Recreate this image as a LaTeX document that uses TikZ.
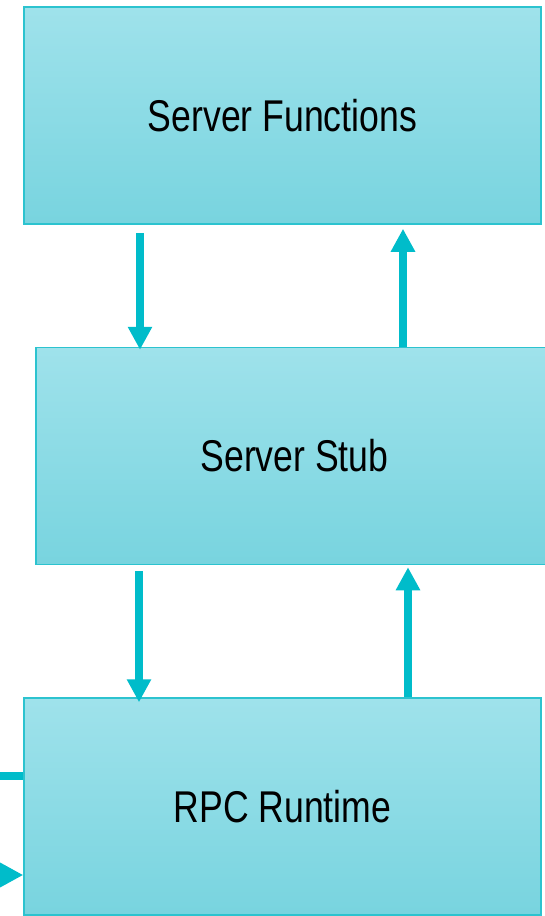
\documentclass[tikz,border=0pt]{standalone}
\usepackage{fontspec}
\setmainfont{Liberation Sans}[FakeStretch=0.8]
\usetikzlibrary{arrows.meta,calc}
\definecolor{flowcol}{HTML}{00BCCA}
\definecolor{edgecol}{HTML}{2CC3CF}
\definecolor{topcol}{HTML}{9FE2EB}
\definecolor{botcol}{HTML}{78D4DF}
\begin{document}
\begin{tikzpicture}[x=1pt, y=-1pt, >={Triangle[width=23pt,length=23pt]},
    layer/.style={draw=edgecol, line width=1.5pt, top color=topcol, bottom color=botcol,
        minimum width=517pt, minimum height=217pt, inner sep=0pt,
        font=\fontsize{44.5}{50}\selectfont},
    flow/.style={->, draw=flowcol, line width=8pt}]
    \useasboundingbox (0,0) rectangle (544,916);
    \node[layer] (func) at (282.5,115.5) {Server Functions};
    \node[layer] (stub) at (294.5,456) {Server Stub};
    \node[layer] (rpc) at (282.5,806.5) {RPC Runtime};
    \coordinate (in) at (0,875);
    \coordinate (out) at (0,776);
      % calls go down, replies go up
      \draw[flow] ($(func.south)+(-142.5,8)$)--($(stub.north)+(-154.5,3)$);
      \draw[flow] ($(stub.north)+(108.5,0)$)--($(func.south)+(120.5,4)$);
      \draw[flow] ($(stub.south)+(-155.5,6)$)--($(rpc.north)+(-143.5,5)$);
      \draw[flow] ($(rpc.north)+(125.5,0)$)--($(stub.south)+(113.5,2)$);
      \draw[flow, -] (out)--(out-|rpc.west);
      \draw[flow] (in)--(in-|rpc.west);
\end{tikzpicture}
\end{document}
